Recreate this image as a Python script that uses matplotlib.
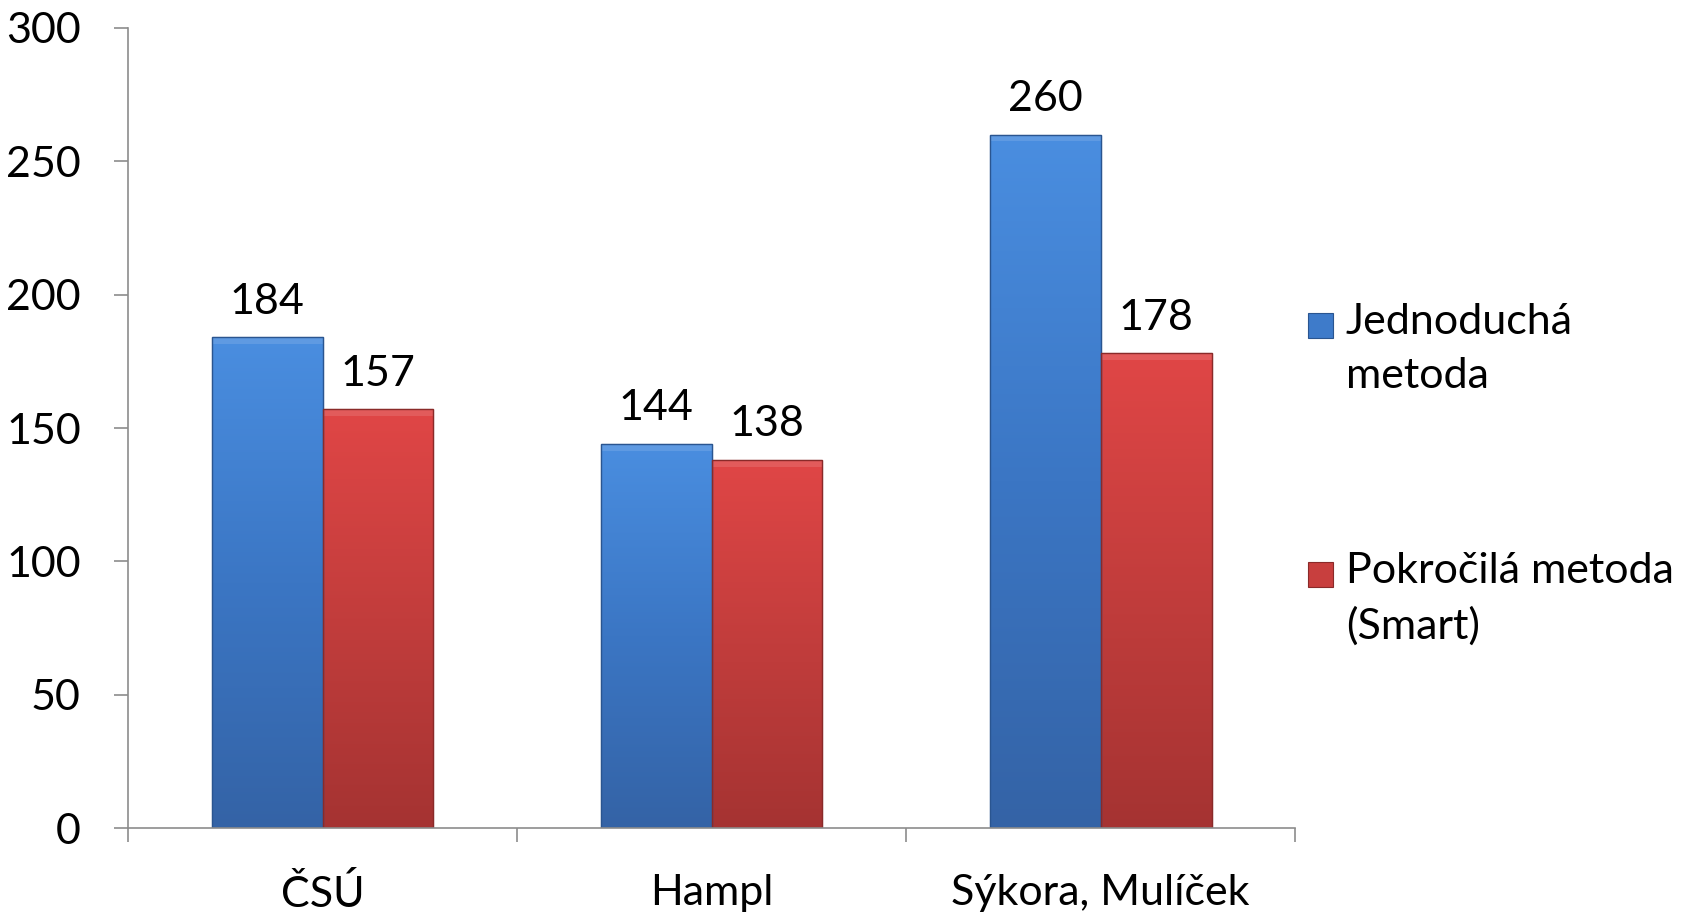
import matplotlib
matplotlib.use("Agg")
import matplotlib.pyplot as plt
from matplotlib.patches import Rectangle
from matplotlib.colors import LinearSegmentedColormap
import numpy as np

plt.rcParams['font.family'] = ['Lato', 'DejaVu Sans']

categories = ['ČSÚ', 'Hampl', 'Sýkora, Mulíček']
series_names = ['Jednoduchá\nmetoda', 'Pokročilá metoda\n(Smart)']
jednoducha = [184, 144, 260]
pokrocila = [157, 138, 178]
y_ticks = [0, 50, 100, 150, 200, 250, 300]

blue_cmap = LinearSegmentedColormap.from_list('b', ['#3463a6', '#3b76c4', '#4a8ee0'])
red_cmap = LinearSegmentedColormap.from_list('r', ['#a53332', '#c23d3c', '#e04646'])

fig = plt.figure(figsize=(17.02, 9.15), dpi=100)
ax = fig.add_axes([0.0752, 0.095, 0.761 - 0.0752, 0.9694 - 0.095])

x = np.arange(len(categories))
w = 0.285
b1 = ax.bar(x - w / 2, jednoducha, w, color='#3d7bcc', edgecolor='#2a5590', linewidth=0.8, zorder=2)
b2 = ax.bar(x + w / 2, pokrocila, w, color='#c83f3e', edgecolor='#8a2a29', linewidth=0.8, zorder=2)

# gradient fill clipped to each bar
grad = np.linspace(0, 1, 256).reshape(-1, 1)
for bars, cmap, edge in ((b1, blue_cmap, '#2a5590'), (b2, red_cmap, '#8a2a29')):
    for bar in bars:
        bx, by = bar.get_x(), bar.get_y()
        bw, bh = bar.get_width(), bar.get_height()
        im = ax.imshow(grad, cmap=cmap, origin='lower', aspect='auto',
                       extent=(bx, bx + bw, by, by + bh), zorder=2.5)
        im.set_clip_path(bar)
        ax.add_patch(Rectangle((bx, by), bw, bh, facecolor='none', edgecolor=edge,
                               linewidth=1.0, zorder=2.7))
        # bevel on top
        ax.add_patch(Rectangle((bx, by + bh - 2.5), bw, 2.5, facecolor='white', alpha=0.12,
                               edgecolor='none', zorder=2.6))

for bars, vals in ((b1, jednoducha), (b2, pokrocila)):
    for bar, v in zip(bars, vals):
        ax.annotate(str(v), (bar.get_x() + bar.get_width() / 2, v), xytext=(0, 12),
                    textcoords='offset points', ha='center', va='bottom', fontsize=31)

ax.set_xlim(-0.5, len(categories) - 0.5)
ax.set_ylim(0, 300)
ax.set_yticks(y_ticks)
ax.set_xticks(np.arange(len(categories) + 1) - 0.5)
ax.set_xticklabels([])
ax.set_xticks(x, minor=True)
ax.set_xticklabels(categories, minor=True, fontsize=31)
ax.tick_params(axis='x', which='major', length=10, width=1.2, color='#8c8c8c', direction='out')
ax.tick_params(axis='x', which='minor', length=0, pad=33)
ax.tick_params(axis='y', length=10, width=1.2, color='#8c8c8c', direction='out', labelsize=31, pad=24)
for s in ('top', 'right'):
    ax.spines[s].set_visible(False)
for s in ('left', 'bottom'):
    ax.spines[s].set_color('#8c8c8c')
    ax.spines[s].set_linewidth(1.2)
ax.spines['left'].set_zorder(3)
ax.spines['bottom'].set_zorder(3)

# legend
W, H = 1702, 915
legend_y = [326, 575]
for name, cmap, edge, ly in zip(series_names, (blue_cmap, red_cmap), ('#2a5590', '#8a2a29'), legend_y):
    sq = Rectangle((1308 / W, 1 - (ly + 12) / H), 25 / W, 25 / H, transform=fig.transFigure,
                   facecolor=cmap(0.6), edgecolor=edge, linewidth=0.8)
    fig.patches.append(sq)
    fig.text(1346 / W, 1 - (ly - 23) / H, name, fontsize=31, va='top', ha='left', linespacing=1.5)

fig.savefig('out.png', dpi=100)
